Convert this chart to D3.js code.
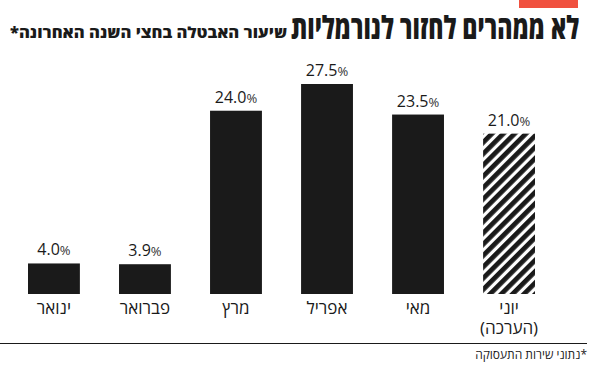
<!DOCTYPE html>
<html><head><meta charset="utf-8">
<script src="https://cdn.jsdelivr.net/npm/d3@7"></script>
<style>
html,body{margin:0;padding:0;background:#fff;}
svg{display:block;}
text{font-family:"Open Sans","Liberation Sans","DejaVu Sans",sans-serif;}
</style></head>
<body>
<script>
const months = ["ינואר","פברואר","מרץ","אפריל","מאי","יוני"];
const subLabels = ["","","","","","(הערכה)"];
const values = [4.0, 3.9, 24.0, 27.5, 23.5, 21.0];
const estimate = [false,false,false,false,false,true];
const title = "לא ממהרים לחזור לנורמליות";
const subtitle = "שיעור האבטלה בחצי השנה האחרונה*";
const footnote = "*נתוני שירות התעסוקה";

const W = 590, H = 368;
const svg = d3.select("body").append("svg").attr("width", W).attr("height", H);

const defs = svg.append("defs");
const pat = defs.append("pattern").attr("id","hatch").attr("patternUnits","userSpaceOnUse")
  .attr("width",8).attr("height",8).attr("patternTransform","rotate(45)");
pat.append("rect").attr("width",8).attr("height",8).attr("fill","#fff");
pat.append("rect").attr("x",0).attr("y",0).attr("width",4.8).attr("height",8).attr("fill","#1a1a1a");

// red marker
svg.append("rect").attr("x",519).attr("y",0).attr("width",59).attr("height",8).attr("fill","#f0513f");

svg.append("text").attr("x",579).attr("y",39).attr("text-anchor","end")
  .attr("font-size",32).attr("font-weight",800).attr("fill","#1a1a1a")
  .attr("textLength",288).attr("lengthAdjust","spacingAndGlyphs").text(title);
svg.append("text").attr("x",287).attr("y",38).attr("direction","rtl").attr("text-anchor","start")
  .attr("font-size",15).attr("font-weight",800).attr("fill","#1a1a1a")
  .attr("textLength",277).attr("lengthAdjust","spacingAndGlyphs").text(subtitle);

const x = d3.scaleBand().domain(months).range([28,535]).paddingInner(0.43).paddingOuter(0);
const y = d3.scaleLinear().domain([0,27.5]).range([294,84]);

svg.selectAll("rect.bar").data(values).join("rect").attr("class","bar")
  .attr("x",(d,i)=>x(months[i])).attr("width",x.bandwidth())
  .attr("y",d=>y(d)).attr("height",d=>y(0)-y(d))
  .attr("fill",(d,i)=>estimate[i]?"url(#hatch)":"#1a1a1a");

const vl = svg.selectAll("text.val").data(values).join("text").attr("class","val")
  .attr("x",(d,i)=>x(months[i])+x.bandwidth()/2).attr("y",d=>y(d)-8)
  .attr("text-anchor","middle").attr("font-size",16).attr("fill","#1a1a1a");
vl.append("tspan").text(d=>d.toFixed(1));
vl.append("tspan").attr("font-size",13).attr("fill","#333").text("%");

const ml = svg.selectAll("text.mon").data(months).join("text").attr("class","mon")
  .attr("y",314).attr("direction","rtl")
  .attr("text-anchor","middle").attr("font-size",17).attr("fill","#1a1a1a");
ml.append("tspan").attr("x",d=>x(d)+x.bandwidth()/2).text(d=>d);
ml.filter((d,i)=>subLabels[i]).append("tspan")
  .attr("x",d=>x(d)+x.bandwidth()/2).attr("dy",20)
  .text(d=>subLabels[months.indexOf(d)]);

svg.append("line").attr("x1",0).attr("x2",587).attr("y1",343.5).attr("y2",343.5)
  .attr("stroke","#1a1a1a").attr("stroke-width",1.2);
svg.append("text").attr("x",587).attr("y",359).attr("direction","rtl").attr("text-anchor","start")
  .attr("font-size",12).attr("fill","#1a1a1a").text(footnote);
</script>
</body></html>
